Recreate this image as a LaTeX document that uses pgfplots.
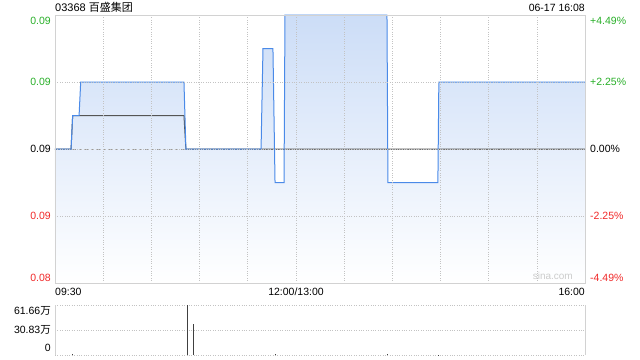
\documentclass[border=0pt]{standalone}
\usepackage{pgfplots}
\pgfplotsset{compat=1.18}
\usepackage{fontspec}
\setmainfont{Liberation Sans}
\newfontfamily\cjk{Noto Sans CJK SC}
\definecolor{upg}{RGB}{40,175,40}
\definecolor{dnr}{RGB}{240,40,40}
\definecolor{lineb}{RGB}{74,138,232}
\definecolor{fillb}{RGB}{204,221,247}
\definecolor{gridc}{RGB}{195,195,195}
\definecolor{framec}{RGB}{210,210,210}
\definecolor{avgc}{RGB}{85,85,85}
\newcommand{\lab}{\fontsize{10.5bp}{12bp}\selectfont}
\begin{document}
\begin{tikzpicture}
\path[use as bounding box] (0,0) rectangle (640bp,360bp);
% ---------------- price panel ----------------
\begin{axis}[
  at={(55bp,77bp)}, anchor=south west, scale only axis,
  width=530bp, height=268bp,
  xmin=0, xmax=330, ymin=0.085, ymax=0.093,
  scaled y ticks=false, scaled x ticks=false,
  xtick={0,30,...,330}, xticklabels={},
  ytick={0.085,0.087,0.089,0.091,0.093},
  yticklabels={\raisebox{1.5bp}[0pt][0pt]{\textcolor{dnr}{0.08}},\textcolor{dnr}{0.09},0.09,\textcolor{upg}{0.09},\raisebox{-9bp}[0pt][0pt]{\textcolor{upg}{0.09}}},
  yticklabel style={font=\lab, inner sep=0pt, anchor=east, xshift=-4bp},
  tick style={draw=none},
  grid=major, major grid style={gridc, dotted, line width=0.6bp},
  axis line style={framec, line width=0.8bp},
  axis on top, clip=false,
]
\addplot[draw=none, top color=fillb, bottom color=white, forget plot] coordinates {
(0,0.085) (0,0.089) (10,0.089) (11,0.090) (15,0.090) (16,0.091) (80.3,0.091) (81.5,0.089)
(128.3,0.089) (129.5,0.092) (135.7,0.092) (137,0.088) (142.6,0.088) (143.2,0.093)
(206.7,0.093) (207.3,0.088) (238.4,0.088) (239,0.091) (330,0.091) (330,0.085)};
\addplot[gray!80, dashed, line width=0.8bp, forget plot] coordinates {(0,0.089) (330,0.089)};
\addplot[avgc, line width=1bp, forget plot] coordinates {
(0,0.089) (10,0.089) (11,0.090) (80.3,0.090) (81.5,0.089) (330,0.089)};
\addplot[lineb, line width=1bp, forget plot] coordinates {
(0,0.089) (10,0.089) (11,0.090) (15,0.090) (16,0.091) (80.3,0.091) (81.5,0.089)
(128.3,0.089) (129.5,0.092) (135.7,0.092) (137,0.088) (142.6,0.088) (143.2,0.093)
(206.7,0.093) (207.3,0.088) (238.4,0.088) (239,0.091) (330,0.091)};
\end{axis}
% right-hand percentage labels
\begin{axis}[
  at={(55bp,77bp)}, anchor=south west, scale only axis,
  width=530bp, height=268bp,
  xmin=0, xmax=330, ymin=0.085, ymax=0.093,
  scaled y ticks=false, scaled x ticks=false,
  xtick=\empty,
  ytick={0.085,0.087,0.089,0.091,0.093},
  yticklabel pos=right,
  yticklabels={\raisebox{1.5bp}[0pt][0pt]{\textcolor{dnr}{-4.49\%}},\textcolor{dnr}{-2.25\%},0.00\%,\textcolor{upg}{+2.25\%},\raisebox{-9bp}[0pt][0pt]{\textcolor{upg}{+4.49\%}}},
  yticklabel style={font=\lab, inner sep=0pt, anchor=west, xshift=5bp},
  tick style={draw=none}, axis line style={draw=none},
]
\end{axis}
% ---------------- volume panel ----------------
\begin{axis}[
  at={(55bp,5bp)}, anchor=south west, scale only axis,
  width=530bp, height=50bp,
  xmin=0, xmax=330, ymin=0, ymax=61.66,
  scaled y ticks=false, scaled x ticks=false,
  xtick=\empty,
  ytick={0,30.83,61.66},
  yticklabels={\raisebox{3.5bp}[0pt][0pt]{0},30.83{\cjk 万},\raisebox{-9.5bp}[0pt][0pt]{61.66{\cjk 万}}},
  yticklabel style={font=\lab, inner sep=0pt, anchor=east, xshift=-4bp},
  tick style={draw=none},
  ymajorgrids, major grid style={gridc, dotted, line width=0.6bp},
  separate axis lines,
  x axis line style={draw=none},
  y axis line style={framec, line width=0.8bp},
  clip=false,
]
\addplot[ycomb, black!75, line width=0.8bp, no markers] coordinates {
(11,0.8) (82.4,61.66) (86.1,38.2) (137,0.8) (207,0.8) (239,0.6)};
\end{axis}
% ---------------- texts ----------------
\node[anchor=base west, inner sep=0pt, font=\fontsize{11bp}{12bp}\selectfont] at (55bp,348.5bp) {03368 {\cjk 百盛集团}};
\node[anchor=base east, inner sep=0pt, font=\lab] at (585bp,348.5bp) {06-17 16:08};
\node[anchor=base west, inner sep=0pt, font=\lab] at (55bp,64bp) {09:30};
\node[anchor=base, inner sep=0pt, font=\lab] at (296bp,64bp) {12:00/13:00};
\node[anchor=base east, inner sep=0pt, font=\lab] at (585bp,64bp) {16:00};
\node[anchor=base east, inner sep=0pt, font=\fontsize{10bp}{12bp}\selectfont, text=gray!40] at (573bp,80bp) {sina.com};
\end{tikzpicture}
\end{document}
